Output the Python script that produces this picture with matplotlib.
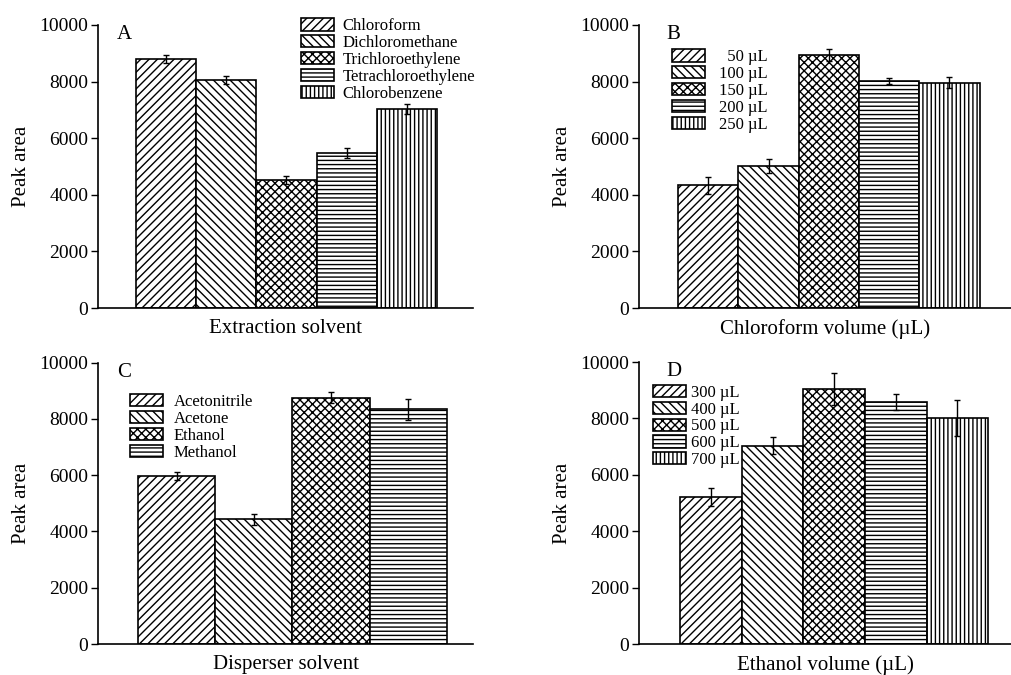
import matplotlib
matplotlib.use("Agg")
import matplotlib.pyplot as plt

plt.rcParams["font.family"] = ["Liberation Serif", "DejaVu Serif"]
plt.rcParams["hatch.linewidth"] = 1.0

# Panel A: extraction solvent
solvents = ["Chloroform", "Dichloromethane", "Trichloroethylene", "Tetrachloroethylene", "Chlorobenzene"]
solvent_area = [8790, 8050, 4520, 5490, 7030]
solvent_err = [150, 150, 150, 180, 180]

# Panel B: chloroform volume
chcl3_vol = ["  50 µL", "100 µL", "150 µL", "200 µL", "250 µL"]
chcl3_area = [4340, 5020, 8940, 8020, 7960]
chcl3_err = [300, 250, 200, 100, 200]

# Panel C: disperser solvent
dispersers = ["Acetonitrile", "Acetone", "Ethanol", "Methanol"]
disperser_area = [5970, 4430, 8760, 8340]
disperser_err = [150, 200, 200, 380]

# Panel D: ethanol volume
etoh_vol = ["300 µL", "400 µL", "500 µL", "600 µL", "700 µL"]
etoh_area = [5200, 7030, 9030, 8580, 8010]
etoh_err = [320, 300, 570, 285, 650]

hatches = ["////", "\\\\\\\\", "xxxx", "----", "||||"]

fig = plt.figure(figsize=(10.11, 6.75), dpi=100)

panels = [
    # rect, letter, labels, values, errors, xlabel, xlim, legend anchor, letter x, textpad
    ([0.0969, 0.5437, 0.371, 0.4193], "A", solvents, solvent_area, solvent_err,
     "Extraction solvent", (-1.13, 5.1), (0.2977, 0.973), 0.05, 0.5),
    ([0.632, 0.5437, 0.368, 0.4193], "B", chcl3_vol, chcl3_area, chcl3_err,
     "Chloroform volume (µL)", (-1.15, 5.02), (0.6647, 0.927), 0.073, 0.8),
    ([0.0969, 0.0459, 0.371, 0.4168], "C", dispersers, disperser_area, disperser_err,
     "Disperser solvent", (-1.02, 3.84), (0.1286, 0.416), 0.05, 0.6),
    ([0.632, 0.0459, 0.368, 0.4178], "D", etoh_vol, etoh_area, etoh_err,
     "Ethanol volume (µL)", (-1.17, 4.87), (0.646, 0.430), 0.073, 0.3),
]

for rect, letter, labels, values, errs, xlabel, xlim, anchor, lx, tpad in panels:
    ax = fig.add_axes(rect)
    for i, (lab, v, e) in enumerate(zip(labels, values, errs)):
        ax.bar(i, v, width=1.0, yerr=e, color="white", edgecolor="black",
               linewidth=1.2, hatch=hatches[i], label=lab,
               error_kw=dict(ecolor="black", elinewidth=1, capsize=2.5, capthick=1))
    ax.set_xlim(*xlim)
    ax.set_ylim(0, 10000)
    ax.set_yticks(range(0, 10001, 2000))
    ax.set_xticks([])
    ax.tick_params(axis="y", direction="out", length=5, width=1, labelsize=14, pad=2)
    ax.spines["top"].set_visible(False)
    ax.spines["right"].set_visible(False)
    ax.spines["left"].set_linewidth(1.2)
    ax.spines["bottom"].set_linewidth(1.2)
    ax.set_ylabel("Peak area", fontsize=15, labelpad=6)
    ax.set_xlabel(xlabel, fontsize=15, labelpad=8)
    ax.text(lx, 0.965, letter, transform=ax.transAxes, fontsize=15,
            ha="left", va="center")
    ax.legend(loc="upper left", bbox_to_anchor=anchor, bbox_transform=fig.transFigure,
              frameon=False, fontsize=12, handlelength=2.0, handleheight=0.75,
              labelspacing=0.05, handletextpad=tpad, borderpad=0, borderaxespad=0)

fig.savefig("out.png", dpi=100)
